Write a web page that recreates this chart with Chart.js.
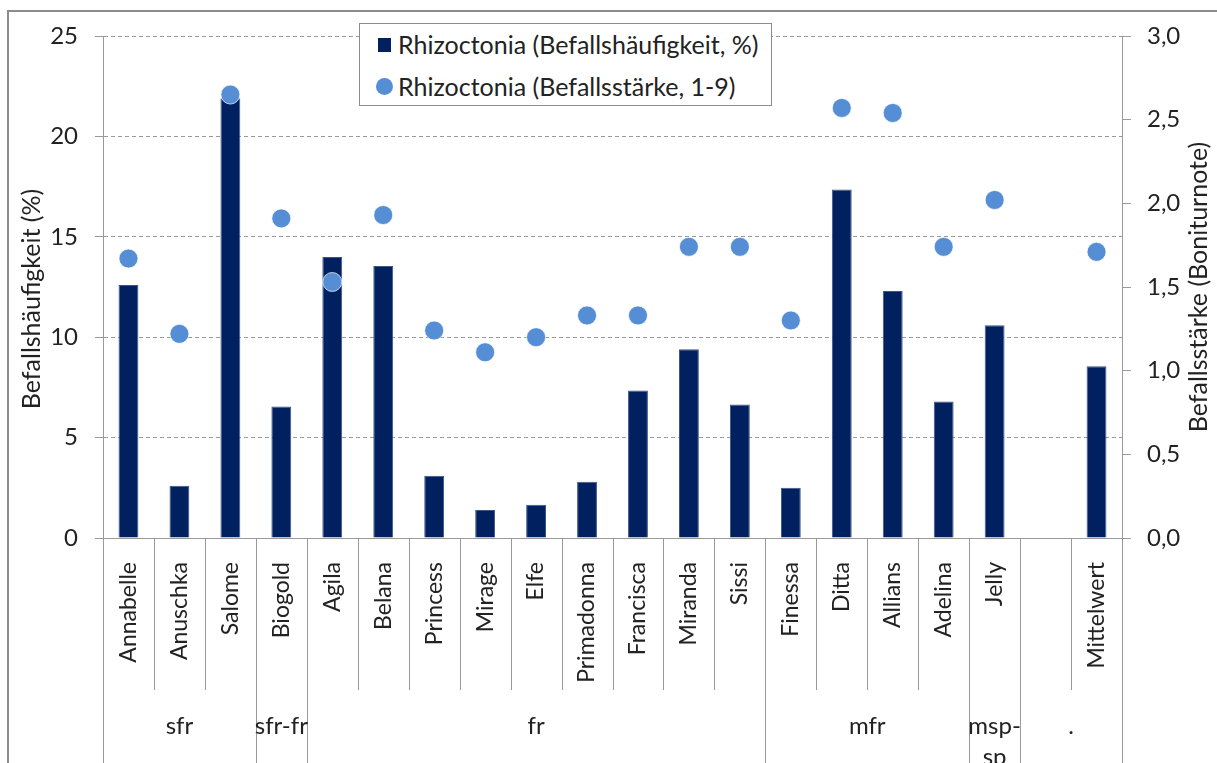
<!DOCTYPE html>
<html lang="de">
<head>
<meta charset="utf-8">
<title>Rhizoctonia</title>
<script src="https://cdn.jsdelivr.net/npm/chart.js@4"></script>
<style>
  html, body { margin: 0; padding: 0; background: #fff; }
  #wrap { position: relative; width: 1217px; height: 763px; overflow: hidden; }
  #legend {
    position: absolute; left: 359px; top: 23px; width: 413px; height: 83px;
    box-sizing: border-box; border: 1px solid #8c8c8c; background: #fff;
    font-family: Lato, sans-serif; font-size: 25px; color: #222;
  }
  #legend .mk { position: absolute; }
  #legend .txt { position: absolute; left: 38px; height: 30px; line-height: 30px; white-space: nowrap; }
</style>
</head>
<body>
<div id="wrap">
  <canvas id="rhizo-chart" width="1217" height="763"></canvas>
  <div id="legend">
    <span class="mk" style="left:18px;top:14px;width:13px;height:14px;background:#002060"></span>
    <span class="txt" style="top:5px">Rhizoctonia (Befallshäufigkeit, %)</span>
    <span class="mk" style="left:16px;top:54px;width:17px;height:17px;border-radius:50%;background:#558ed5"></span>
    <span class="txt" style="top:47px">Rhizoctonia (Befallsstärke, 1-9)</span>
  </div>
</div>
<script>
const varieties = ['Annabelle', 'Anuschka', 'Salome', 'Biogold', 'Agila', 'Belana', 'Princess', 'Mirage', 'Elfe',
  'Primadonna', 'Francisca', 'Miranda', 'Sissi', 'Finessa', 'Ditta', 'Allians', 'Adelina', 'Jelly', '', 'Mittelwert'];
const befallshaeufigkeit = [12.6, 2.6, 21.9, 6.55, 14.0, 13.55, 3.1, 1.4, 1.65, 2.8, 7.35, 9.4, 6.65, 2.5,
  17.35, 12.3, 6.8, 10.6, null, 8.55];
const befallsstaerke = [1.67, 1.22, 2.65, 1.91, 1.53, 1.93, 1.24, 1.11, 1.2, 1.33, 1.33, 1.74, 1.74, 1.3,
  2.57, 2.54, 1.74, 2.02, null, 1.71];
const groupNames = [['sfr'], ['sfr-fr'], ['fr'], ['mfr'], ['msp-', 'sp'], ['.']];
const groupSizes = [3, 1, 9, 4, 1, 2];
const leftTitle = 'Befallshäufigkeit (%)';
const rightTitle = 'Befallsstärke (Boniturnote)';

const colors = {
  navy: '#002060',
  blue: '#558ed5',
  grid: '#9a9a9a',
  text: '#222222',
  frame: '#8c8c8c'
};

Chart.defaults.font.family = 'Lato, sans-serif';
Chart.defaults.font.size = 23;
Chart.defaults.color = colors.text;

// category separators, group row, axis titles, outer frame
const extras = {
  id: 'extras',
  afterDraw(chart) {
    const { ctx, chartArea: a, scales: { x } } = chart;
    const w = x.getPixelForValue(1) - x.getPixelForValue(0);
    const edge = i => x.getPixelForValue(i) - w / 2;
    const longEdges = [0];
    groupSizes.reduce((acc, n) => { longEdges.push(acc + n); return acc + n; }, 0);

    ctx.save();
    ctx.strokeStyle = colors.grid;
    ctx.lineWidth = 1;
    for (let i = 0; i <= varieties.length; i++) {
      const px = Math.round(edge(i)) + 0.5;
      ctx.beginPath();
      ctx.moveTo(px, a.bottom);
      ctx.lineTo(px, longEdges.includes(i) ? 763 : 690);
      ctx.stroke();
    }

    ctx.fillStyle = colors.text;
    ctx.font = '24px Lato, sans-serif';
    ctx.textAlign = 'center';
    ctx.textBaseline = 'middle';
    let start = 0;
    groupNames.forEach((lines, g) => {
      const cx = edge(start) + groupSizes[g] * w / 2;
      lines.forEach((t, k) => ctx.fillText(t, cx, 726 + k * 31));
      start += groupSizes[g];
    });

    const vText = (t, cx, cy) => {
      ctx.save();
      ctx.translate(cx, cy);
      ctx.rotate(-Math.PI / 2);
      ctx.fillText(t, 0, 0);
      ctx.restore();
    };
    ctx.font = '25px Lato, sans-serif';
    vText(leftTitle, 32, 299);
    vText(rightTitle, 1199, 287);

    ctx.strokeStyle = colors.frame;
    ctx.lineWidth = 2;
    ctx.beginPath();
    ctx.moveTo(8, 763);
    ctx.lineTo(8, 11);
    ctx.lineTo(1217, 11);
    ctx.stroke();
    ctx.restore();
  }
};

const ctx = document.getElementById('rhizo-chart').getContext('2d');

new Chart(ctx, {
  data: {
    labels: varieties,
    datasets: [
      {
        type: 'line',
        label: 'Rhizoctonia (Befallsstärke, 1-9)',
        data: befallsstaerke,
        yAxisID: 'y1',
        showLine: false,
        pointRadius: 9.5,
        pointBackgroundColor: colors.blue,
        pointBorderColor: 'rgba(255,255,255,0.7)',
        pointBorderWidth: 1,
        order: 0
      },
      {
        type: 'bar',
        label: 'Rhizoctonia (Befallshäufigkeit, %)',
        data: befallshaeufigkeit,
        yAxisID: 'y',
        backgroundColor: colors.navy,
        borderColor: '#3d5487',
        borderWidth: 1,
        barPercentage: 0.39,
        categoryPercentage: 1.0,
        order: 1
      }
    ]
  },
  options: {
    responsive: false,
    animation: false,
    layout: { padding: { top: 36, left: 0, right: 0, bottom: 0 } },
    scales: {
      x: {
        grid: { display: false },
        border: { color: colors.grid, width: 1 },
        ticks: { autoSkip: false, minRotation: 90, maxRotation: 90, padding: 16 },
        afterFit(scale) { scale.height = 763 - 538; }
      },
      y: {
        position: 'left',
        min: 0,
        max: 25,
        grid: {
          color: colors.grid,
          tickLength: 8,
          tickColor: colors.grid,
          tickBorderDash: []
        },
        border: { color: colors.grid, dash: [4, 3] },
        ticks: { stepSize: 5, padding: 17, font: { size: 24 } },
        afterFit(scale) { scale.width = 103; }
      },
      y1: {
        position: 'right',
        min: 0,
        max: 3,
        grid: {
          drawOnChartArea: false,
          tickLength: 9,
          tickColor: colors.grid,
          tickBorderDash: []
        },
        border: { color: colors.grid },
        ticks: {
          stepSize: 0.5,
          padding: 16,
          font: { size: 24 },
          callback: v => v.toFixed(1).replace('.', ',')
        },
        afterFit(scale) { scale.width = 95; }
      }
    },
    plugins: {
      legend: { display: false },
      tooltip: { enabled: false }
    }
  },
  plugins: [extras]
});
</script>
</body>
</html>
